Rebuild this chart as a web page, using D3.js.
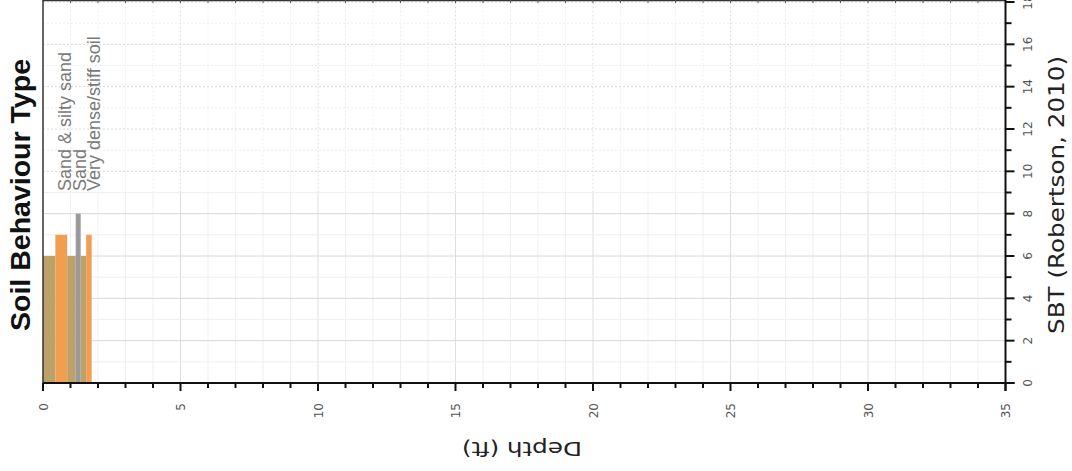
<!DOCTYPE html>
<head>
    <meta charset="utf-8">
    <title>Soil Behaviour Type</title>
    <script src="https://d3js.org/d3.v7.min.js"></script>
    <style>
        body{
            margin: 0;
            background: #ffffff;
        }
        text{
            font-family: "DejaVu Sans", sans-serif;
        }
        text.title{
            font-family: "Liberation Sans", Arial, sans-serif;
            font-weight: 700;
            font-size: 27px;
            fill: #111111;
        }
        text.axisTitle{
            font-size: 21px;
            fill: #222222;
        }
        text.zoneLabel{
            font-family: "Liberation Sans", Arial, sans-serif;
            font-size: 18px;
            fill: #7a7a7a;
        }
        text.tickLabel{
            font-size: 12px;
            fill: #555555;
        }
    </style>
</head>
<body>
<script>
    // chart data
    var depthFrom = [0, 0.45, 0.88, 1.19, 1.37, 1.57];
    var depthTo   = [0.45, 0.88, 1.19, 1.37, 1.57, 1.77];
    var sbtZone   = [6, 7, 6, 8, 6, 7];

    var zoneIds    = [6, 7, 8];
    var zoneNames  = ["Sand & silty sand", "Sand", "Very dense/stiff soil"];
    var zoneColors = ["#bca16b", "#f29e4f", "#9a9a9a"];

    var depthTicks = [0, 5, 10, 15, 20, 25, 30, 35];
    var sbtTicks   = [0, 2, 4, 6, 8, 10, 12, 14, 16, 18];

    var width = 1072;
    var height = 471;

    var svg = d3.select("body").append("svg")
        .attr("width", width)
        .attr("height", height);

    const plot = {left: 43, right: 1005.5, top: 2, bottom: 383};

    // depth runs left -> right, SBT runs bottom -> top (chart is turned on its side)
    let x = d3.scaleLinear()
        .domain([0, 35])
        .range([plot.left, plot.right]);

    let y = d3.scaleLinear()
        .domain([0, 18])
        .range([plot.bottom, plot.top]);

    let zoneColor = d3.scaleOrdinal().domain(zoneIds).range(zoneColors);

    //Grid
    let grid = svg.append("g").attr("class", "grid");
    let splitY = y(9);

    d3.range(1, 36).forEach(function(d) {
        let c = d % 5 == 0 ? "#dedede" : "#efefef";
        grid.append("line")
            .attr("x1", x(d)).attr("x2", x(d))
            .attr("y1", plot.bottom).attr("y2", splitY)
            .style("stroke", c);
        grid.append("line")
            .attr("x1", x(d)).attr("x2", x(d))
            .attr("y1", splitY).attr("y2", 0)
            .style("stroke", c)
            .style("stroke-dasharray", "2,2");
    });

    d3.range(1, 19).forEach(function(d) {
        let c = d % 2 == 0 ? "#d8d8d8" : "#eeeeee";
        grid.append("line")
            .attr("x1", plot.left).attr("x2", plot.right)
            .attr("y1", y(d)).attr("y2", y(d))
            .style("stroke", c)
            .style("stroke-dasharray", d > 9 ? "2,2" : null);
    });

    //Bars
    let rows = sbtZone.map((z, i) => ({from: depthFrom[i], to: depthTo[i], zone: z}));

    svg.selectAll("rect.bar")
        .data(rows)
        .enter()
        .append("rect")
        .attr("class", "bar")
        .attr("x", d => x(d.from))
        .attr("width", d => x(d.to) - x(d.from))
        .attr("y", d => y(d.zone))
        .attr("height", d => y(0) - y(d.zone))
        .style("fill", d => zoneColor(d.zone));

    //Zone labels
    svg.selectAll("text.zoneLabel")
        .data(zoneNames)
        .enter()
        .append("text")
        .attr("class", "zoneLabel")
        .attr("transform", (d, i) => `translate(${71 + i * 14.5}, 191) rotate(-90)`)
        .text(d => d);

    //Frame lines
    svg.append("line")
        .attr("x1", plot.left).attr("x2", plot.left)
        .attr("y1", 0).attr("y2", plot.bottom)
        .style("stroke", "#333333").style("stroke-width", 1.5);

    svg.append("line")
        .attr("x1", plot.left).attr("x2", plot.right)
        .attr("y1", 0.5).attr("y2", 0.5)
        .style("stroke", "#333333").style("stroke-width", 1.5);

    svg.append("g").selectAll("line")
        .data(d3.range(1, 35))
        .enter()
        .append("line")
        .attr("x1", d => x(d)).attr("x2", d => x(d))
        .attr("y1", 0).attr("y2", 3)
        .style("stroke", "#555555");

    //Depth axis (bottom)
    let depthAxis = svg.append("g").attr("class", "depthAxis");

    depthAxis.append("line")
        .attr("x1", plot.left).attr("x2", plot.right + 9)
        .attr("y1", plot.bottom).attr("y2", plot.bottom)
        .style("stroke", "#111111").style("stroke-width", 2);

    depthAxis.selectAll("line.tick")
        .data(d3.range(0, 36))
        .enter()
        .append("line")
        .attr("class", "tick")
        .attr("x1", d => x(d)).attr("x2", d => x(d))
        .attr("y1", plot.bottom)
        .attr("y2", d => plot.bottom + (d % 5 == 0 ? 8 : 5))
        .style("stroke", "#111111").style("stroke-width", 2);

    depthAxis.selectAll("text")
        .data(depthTicks)
        .enter()
        .append("text")
        .attr("class", "tickLabel")
        .attr("transform", d => `translate(${x(d) + 4.5}, 403) rotate(-90)`)
        .style("text-anchor", "end")
        .text(d => d);

    //SBT axis (right)
    let sbtAxis = svg.append("g").attr("class", "sbtAxis");

    sbtAxis.append("line")
        .attr("x1", plot.right).attr("x2", plot.right)
        .attr("y1", 0).attr("y2", plot.bottom + 8)
        .style("stroke", "#111111").style("stroke-width", 2);

    sbtAxis.selectAll("line.tick")
        .data(d3.range(0, 19))
        .enter()
        .append("line")
        .attr("class", "tick")
        .attr("x1", plot.right)
        .attr("x2", d => plot.right + (d % 2 == 0 ? 9 : 6))
        .attr("y1", d => y(d)).attr("y2", d => y(d))
        .style("stroke", "#111111").style("stroke-width", 2);

    sbtAxis.selectAll("text")
        .data(sbtTicks)
        .enter()
        .append("text")
        .attr("class", "tickLabel")
        .attr("transform", d => `translate(1032, ${y(d)}) rotate(-90)`)
        .style("text-anchor", "middle")
        .text(d => d);

    //Titles
    svg.append("text")
        .attr("class", "title")
        .attr("transform", "translate(30, 195) rotate(-90)")
        .style("text-anchor", "middle")
        .attr("textLength", 272)
        .attr("lengthAdjust", "spacingAndGlyphs")
        .text("Soil Behaviour Type");

    svg.append("text")
        .attr("class", "axisTitle")
        .attr("transform", "translate(1064, 195) rotate(-90)")
        .style("text-anchor", "middle")
        .attr("textLength", 278)
        .attr("lengthAdjust", "spacingAndGlyphs")
        .text("SBT (Robertson, 2010)");

    svg.append("text")
        .attr("class", "axisTitle")
        .attr("transform", "translate(522, 442) rotate(180)")
        .style("text-anchor", "middle")
        .style("font-size", "20px")
        .attr("textLength", 120)
        .attr("lengthAdjust", "spacingAndGlyphs")
        .text("Depth (ft)");
</script>
</body>
